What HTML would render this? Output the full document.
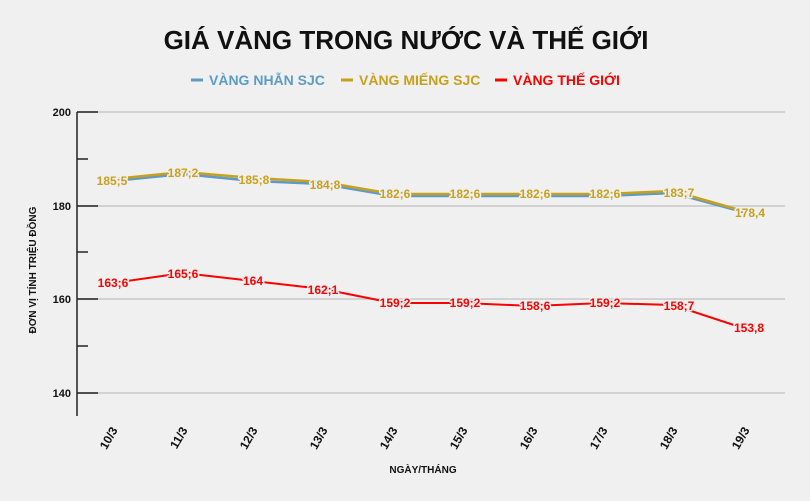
<!DOCTYPE html>
<html><head><meta charset="utf-8"><style>
body{margin:0;background:#f0f0f0;}
svg{display:block;font-family:"Liberation Sans",Arial,sans-serif;}
.lb text{paint-order:stroke;stroke:#f0f0f0;stroke-width:3px;stroke-linejoin:round;}
</style></head><body>
<svg width="810" height="501" viewBox="0 0 810 501">
<rect width="810" height="501" fill="#f0f0f0"/>
<text x="406" y="49" text-anchor="middle" font-size="26" font-weight="bold" fill="#111">GIÁ VÀNG TRONG NƯỚC VÀ THẾ GIỚI</text>
<g font-size="14" font-weight="bold">
<line x1="191" y1="80" x2="203" y2="80" stroke="#5b9bc8" stroke-width="3"/>
<text x="209" y="85" fill="#5b9bc8">VÀNG NHẪN SJC</text>
<line x1="341" y1="80" x2="353" y2="80" stroke="#c9a01c" stroke-width="3"/>
<text x="359" y="85" fill="#c9a01c">VÀNG MIẾNG SJC</text>
<line x1="495" y1="80" x2="507" y2="80" stroke="#ff0000" stroke-width="3"/>
<text x="513" y="85" fill="#ff0000">VÀNG THẾ GIỚI</text>
</g>
<g stroke="#c8c8c8" stroke-width="1.5">
<line x1="77" y1="112" x2="785" y2="112"/><line x1="77" y1="206" x2="785" y2="206"/>
<line x1="77" y1="299" x2="785" y2="299"/><line x1="77" y1="393" x2="785" y2="393"/>
</g>
<g stroke="#222" stroke-width="1.5">
<line x1="77" y1="112" x2="77" y2="416"/>
<line x1="77" y1="112" x2="98" y2="112"/><line x1="77" y1="206" x2="98" y2="206"/>
<line x1="77" y1="299" x2="98" y2="299"/><line x1="77" y1="393" x2="98" y2="393"/>
<line x1="77" y1="159" x2="88" y2="159"/><line x1="77" y1="252" x2="88" y2="252"/>
<line x1="77" y1="346" x2="88" y2="346"/>
</g>
<g font-size="11" font-weight="bold" fill="#111" text-anchor="end">
<text x="71" y="116">200</text><text x="71" y="210">180</text>
<text x="71" y="303">160</text><text x="71" y="397">140</text>
</g>
<text transform="translate(36,270) rotate(-90)" text-anchor="middle" font-size="10" font-weight="bold" fill="#111">ĐƠN VỊ TÍNH TRIỆU ĐỒNG</text>
<text x="423" y="473" text-anchor="middle" font-size="10" font-weight="bold" fill="#111">NGÀY/THÁNG</text>
<g font-size="12" font-weight="bold" fill="#111" text-anchor="end">
<text transform="translate(118,430) rotate(-60)">10/3</text>
<text transform="translate(188,430) rotate(-60)">11/3</text>
<text transform="translate(258,430) rotate(-60)">12/3</text>
<text transform="translate(328,430) rotate(-60)">13/3</text>
<text transform="translate(398,430) rotate(-60)">14/3</text>
<text transform="translate(468,430) rotate(-60)">15/3</text>
<text transform="translate(538,430) rotate(-60)">16/3</text>
<text transform="translate(608,430) rotate(-60)">17/3</text>
<text transform="translate(678,430) rotate(-60)">18/3</text>
<text transform="translate(750,430) rotate(-60)">19/3</text>
</g>
<polyline fill="none" stroke="#5b9bc8" stroke-width="2.5" points="113,181 183,174 253,181 323,184 393,196 463,196 533,196 603,196 673,193 743,212"/>
<polyline fill="none" stroke="#c9a01c" stroke-width="2.5" points="113,179 183,172 253,178 323,182 393,194 463,194 533,194 603,194 673,191 743,211"/>
<polyline fill="none" stroke="#ff0000" stroke-width="2" points="113,283 183,273 253,281 323,289 393,303 463,303 533,306 603,303 673,305 743,328"/>
<g class="lb" font-size="12" font-weight="bold" fill="#c9a01c" text-anchor="middle">
<text x="112" y="185">185;5</text><text x="183" y="177">187;2</text><text x="254" y="184">185;8</text>
<text x="325" y="189">184;8</text><text x="395" y="198">182;6</text><text x="465" y="198">182;6</text>
<text x="535" y="198">182;6</text><text x="605" y="198">182;6</text><text x="679" y="197">183;7</text>
<text x="750" y="217">178,4</text>
</g>
<g class="lb" font-size="12" font-weight="bold" fill="#ff0000" text-anchor="middle">
<text x="113" y="287">163;6</text><text x="183" y="278">165;6</text><text x="253" y="285">164</text>
<text x="323" y="294">162;1</text><text x="395" y="307">159;2</text><text x="465" y="307">159;2</text>
<text x="535" y="310">158;6</text><text x="605" y="307">159;2</text><text x="679" y="310">158;7</text>
<text x="749" y="332">153,8</text>
</g>
</svg>
</body></html>
